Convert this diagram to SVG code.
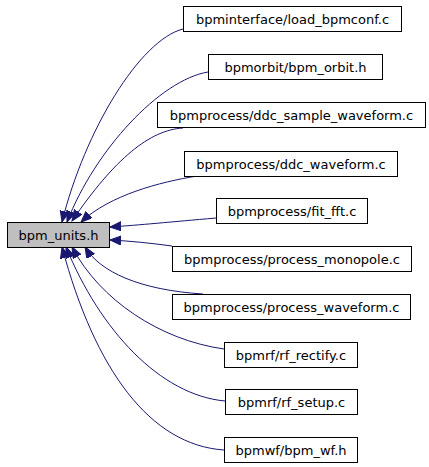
<svg xmlns="http://www.w3.org/2000/svg" width="429" height="467" viewBox="0 0 429 467">
<style>
.n rect{fill:#ffffff;stroke:#000000;stroke-width:1}
#main rect{fill:#bfbfbf}
text{font-family:"DejaVu Sans","Liberation Sans",sans-serif;font-size:13px;fill:#000000;text-anchor:middle}
#edges path{fill:none;stroke:#191970;stroke-width:1;marker-end:url(#arr)}
</style>
<defs>
<marker id="arr" markerUnits="userSpaceOnUse" markerWidth="12" markerHeight="10" refX="11" refY="4.5" orient="auto">
<path d="M0,0 L11,4.5 L0,9 z" fill="#191970" stroke="#191970" stroke-width="1"/>
</marker>
</defs>
<rect width="429" height="467" fill="#ffffff"/>
<g id="edges">
<path d="M183,29 C140,40 85,130 62,222"/>
<path d="M208,72 C160,80 95,150 67,222"/>
<path d="M183,128 C150,130 115,158 72,221"/>
<path d="M197,176 C160,182 110,195 81,222"/>
<path d="M216,218 C170,222 140,225 110,227"/>
<path d="M172,246 C150,243 130,241 110,240"/>
<path d="M203,294 C140,290 100,272 85,247"/>
<path d="M224,349 C160,340 100,300 72,247"/>
<path d="M225,401 C160,395 100,330 66,247"/>
<path d="M224,450 C150,445 95,370 62,247"/>
</g>
<g id="main" class="n"><rect x="7.5" y="222.5" width="102" height="25"/><text x="58.5" y="239.5">bpm_units.h</text></g>
<g id="n1" class="n"><rect x="183.5" y="6.5" width="218" height="25"/><text x="292.5" y="23.5">bpminterface/load_bpmconf.c</text></g>
<g id="n2" class="n"><rect x="208.5" y="54.5" width="174" height="25"/><text x="295.5" y="71.5">bpmorbit/bpm_orbit.h</text></g>
<g id="n3" class="n"><rect x="157.5" y="102.5" width="268" height="25"/><text x="291.5" y="119.5">bpmprocess/ddc_sample_waveform.c</text></g>
<g id="n4" class="n"><rect x="184.5" y="151.5" width="213" height="25"/><text x="291" y="168.5">bpmprocess/ddc_waveform.c</text></g>
<g id="n5" class="n"><rect x="216.5" y="198.5" width="151" height="25"/><text x="292" y="215.5">bpmprocess/fit_fft.c</text></g>
<g id="n6" class="n"><rect x="172.5" y="246.5" width="239" height="25"/><text x="292" y="263.5">bpmprocess/process_monopole.c</text></g>
<g id="n7" class="n"><rect x="172.5" y="294.5" width="238" height="25"/><text x="291.5" y="311.5">bpmprocess/process_waveform.c</text></g>
<g id="n8" class="n"><rect x="224.5" y="342.5" width="133" height="25"/><text x="291" y="359.5">bpmrf/rf_rectify.c</text></g>
<g id="n9" class="n"><rect x="225.5" y="389.5" width="132" height="25"/><text x="291.5" y="406.5">bpmrf/rf_setup.c</text></g>
<g id="n10" class="n"><rect x="224.5" y="437.5" width="133" height="25"/><text x="291" y="454.5">bpmwf/bpm_wf.h</text></g>
</svg>
